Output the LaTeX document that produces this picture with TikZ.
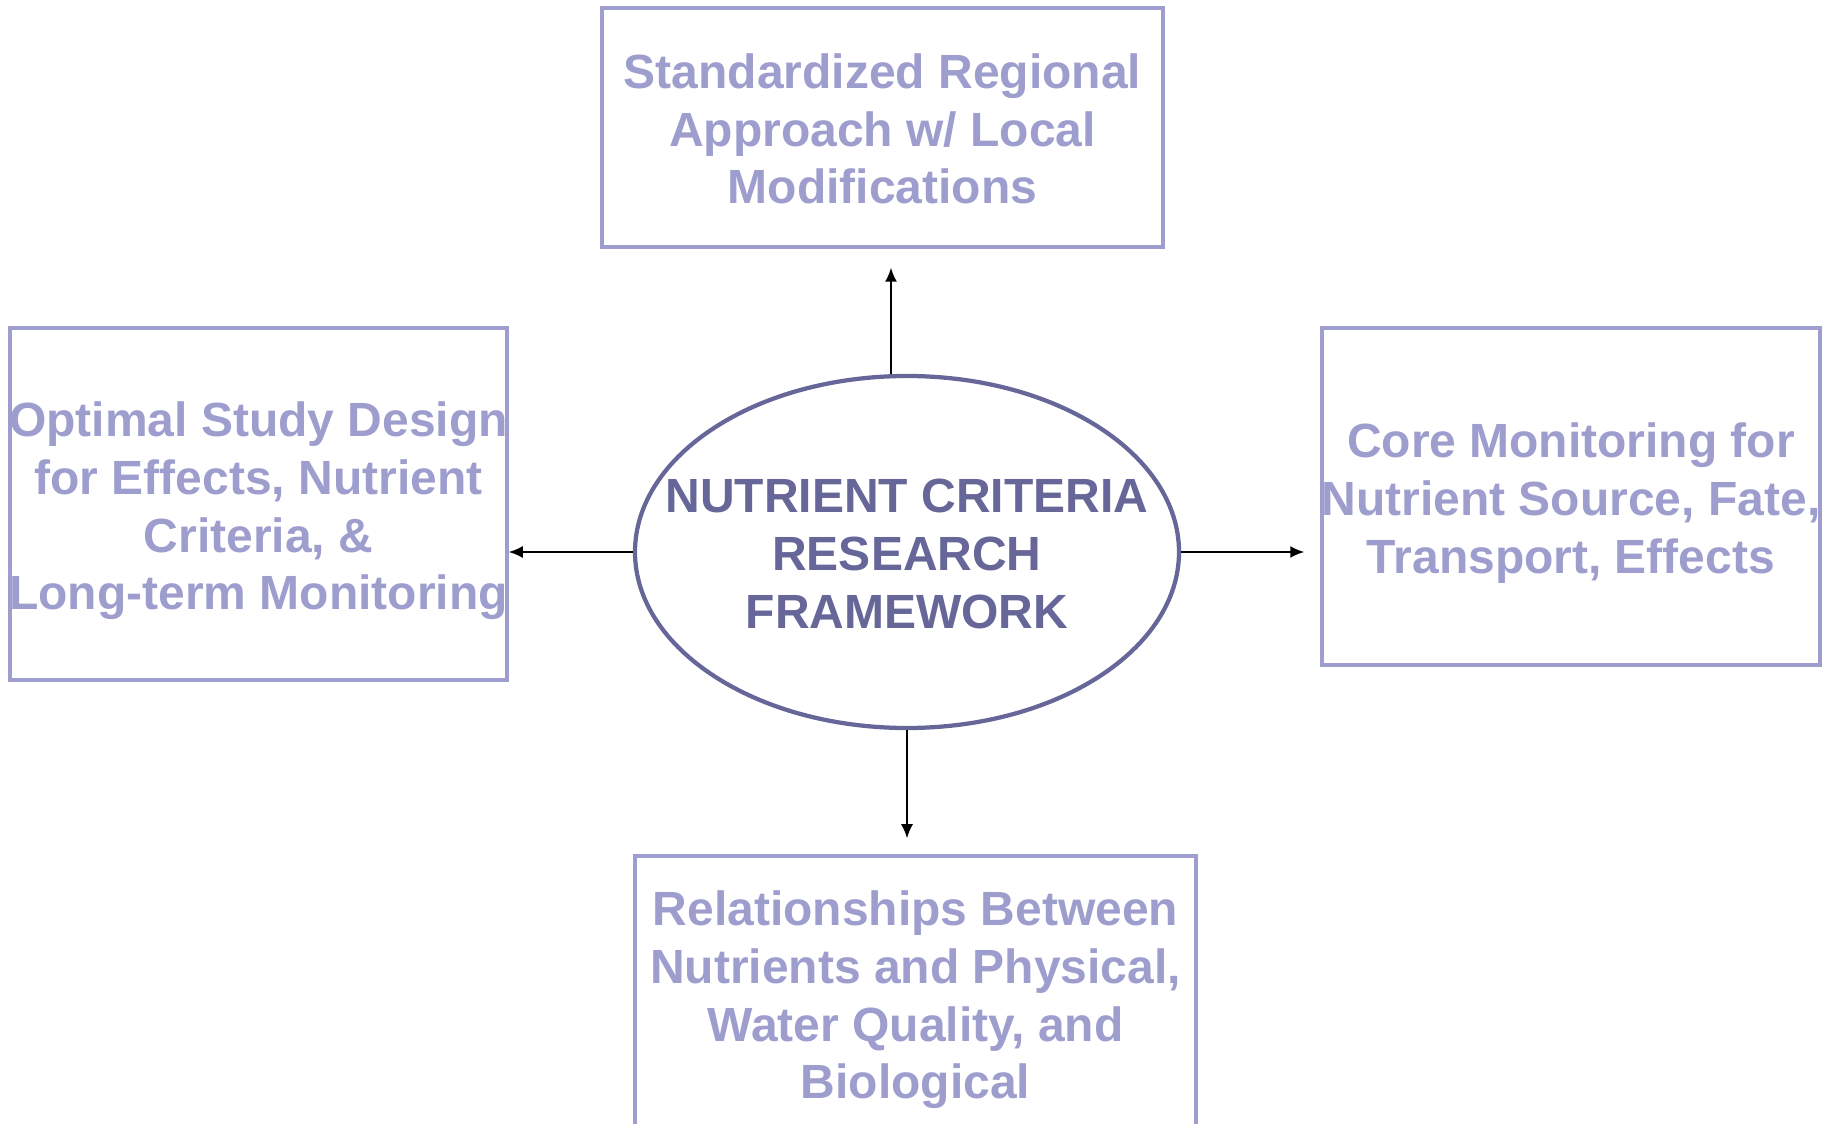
\documentclass[tikz,border=0pt]{standalone}
\usepackage{fontspec}
\setmainfont{Liberation Sans}
\usetikzlibrary{shapes.geometric,arrows.meta}
\definecolor{boxcol}{RGB}{158,158,206}
\definecolor{ellcol}{RGB}{102,102,153}
\tikzset{
  box/.style={draw=boxcol, line width=1.4pt, rectangle, inner sep=0pt},
  txt/.style={font=\bfseries\fontsize{19.2pt}{23.1pt}\selectfont, align=center, inner sep=0pt, text=boxcol},
  etxt/.style={txt, text=ellcol},
  ell/.style={draw=ellcol, line width=1.7pt, ellipse, inner sep=0pt, minimum width=217.6pt, minimum height=140.8pt},
  arr/.style={-{Latex[length=5.6pt,width=4.8pt]}, line width=0.7pt, black}
}
\begin{document}
\begin{tikzpicture}[x=0.4pt,y=-0.4pt]
\useasboundingbox (0,0) rectangle (1829,1124);
\clip (0,0) rectangle (1829,1124);
\fill[white] (0,0) rectangle (1829,1124);
% boxes
\node[box, minimum width=224.4pt, minimum height=95.6pt] (top) at (882.5,127.5) {};
\node[txt] (toptxt) at (882.5,129) {Standardized Regional\\Approach w/ Local\\Modifications};
\node[box, minimum width=198.8pt, minimum height=140.8pt] (left) at (258.5,504) {};
\node[txt] (lefttxt) at (258.5,511) {Optimal Study Design\\for Effects, Nutrient\\Criteria, \&\\Long-term Monitoring};
\node[box, minimum width=199.2pt, minimum height=134.8pt] (right) at (1571,496.5) {};
\node[txt] (righttxt) at (1571,503) {Core Monitoring for\\Nutrient Source, Fate,\\Transport, Effects};
\node[box, minimum width=224.4pt, minimum height=110.8pt] (bot) at (915.5,994.5) {};
\node[txt] (bottxt) at (915.5,1000) {Relationships Between\\Nutrients and Physical,\\Water Quality, and\\Biological};
% ellipse
\node[ell] (ell) at (907,552) {};
\node[etxt] (elltxt) at (907,554) {NUTRIENT CRITERIA\\RESEARCH\\FRAMEWORK};
% arrows
\draw[arr] ([xshift=-6.4pt]ell.north) -- ([xshift=3.4pt,yshift=-7.6pt]top.south);
\draw[arr] (ell.west) -- (ell.west -| left.east);
\draw[arr, shorten >=6.4pt] (ell.east) -- (ell.east -| right.west);
\draw[arr] (ell.south) -- ([xshift=-3.4pt,yshift=6.4pt]bot.north);
\end{tikzpicture}
\end{document}
